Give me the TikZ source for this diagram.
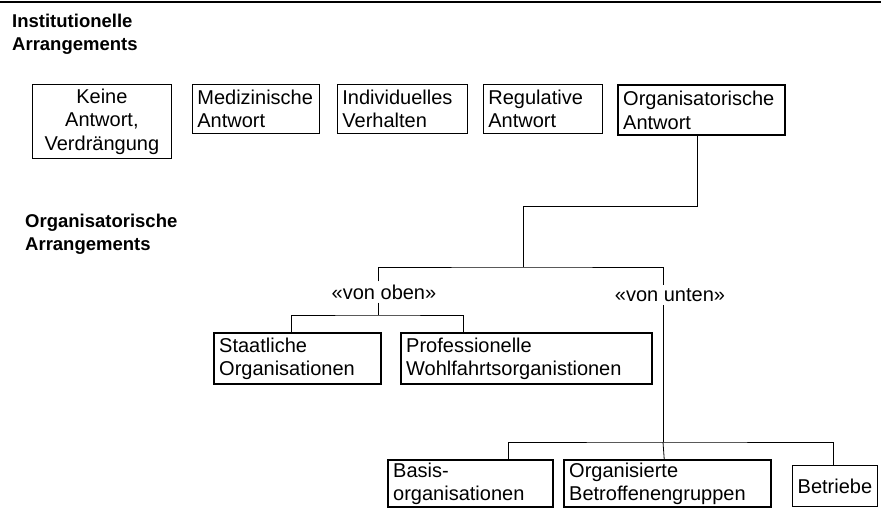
\documentclass[tikz,border=0pt]{standalone}
\usepackage{fontspec}
\setmainfont{Liberation Sans}
\usetikzlibrary{positioning}

\begin{document}
\begin{tikzpicture}[
    x=1pt, y=-1pt,
    head/.style={font=\fontsize{18.5}{22.5}\selectfont\bfseries,align=left,anchor=north west,inner sep=0pt},
    box/.style={draw,line width=0.8pt,anchor=north west,inner xsep=5pt,inner ysep=0pt,align=left,font=\fontsize{20}{23.5}\selectfont},
    thickbox/.style={box,line width=2.4pt},
    branch/.style={font=\fontsize{20}{23.5}\selectfont,inner sep=3pt},
    conn/.style={line width=0.8pt}
]
\useasboundingbox (0,0) rectangle (881,509);
\draw[line width=1.6pt] (0,2) -- (881,2);

\node[head] (insthead) at (12,14) {Institutionelle\\Arrangements};
\node[head] (orghead) at (25,214) {Organisatorische\\Arrangements};

\node[box,minimum width=139pt,minimum height=74pt,text width=129pt,align=center] (keine) at (32,84) {Keine\\Antwort,\\Verdrängung};
\node[box,minimum width=127pt,minimum height=49pt,text width=117pt] (mediz) at (192,84) {Medizinische\\Antwort};
\node[box,minimum width=130pt,minimum height=49pt,text width=120pt] (indiv) at (337,84) {Individuelles\\Verhalten};
\node[box,minimum width=119pt,minimum height=49pt,text width=109pt] (regul) at (483,84) {Regulative\\Antwort};
\node[thickbox,minimum width=167pt,minimum height=50pt,text width=157pt] (orgA) at (617,84) {Organisatorische\\Antwort};

\node[branch] (vonoben) at (384,292) {«von oben»};
\node[branch] (vonunten) at (670,295) {«von unten»};

\node[thickbox,minimum width=167pt,minimum height=51pt,text width=157pt] (staat) at (213,332) {Staatliche\\Organisationen};
\node[thickbox,minimum width=251pt,minimum height=51pt,text width=241pt] (prof) at (400,332) {Professionelle\\Wohlfahrtsorganistionen};

\node[thickbox,minimum width=165pt,minimum height=47pt,text width=155pt] (basis) at (387,459) {Basis-\\organisationen};
\node[thickbox,minimum width=207pt,minimum height=47pt,text width=197pt] (betroff) at (563,459) {Organisierte\\Betroffenengruppen};
\node[box,minimum width=85pt,minimum height=41pt,text width=75pt,align=center] (betriebe) at (792,465) {Betriebe};

% Verbindungen
\coordinate (bend) at (523,206);
\coordinate (split) at (523,267);
\coordinate (obenbus) at (378,315);
\coordinate (untenbus) at (663,442);

\draw[conn] ([xshift=-4pt]orgA.south) |- (bend) -- (split);
\draw[conn] ([xshift=-6pt]vonoben.north) |- (split) -| ([xshift=-7pt]vonunten.north);

\draw[conn] ([xshift=-6pt]vonoben.south) -- (obenbus);
\draw[conn] ([xshift=-6.5pt]staat.north) |- (obenbus) -| ([xshift=-63.5pt]prof.north);

\draw[conn] ([xshift=-7pt]vonunten.south) -- (untenbus);
\draw[conn] ([xshift=37.5pt]basis.north) |- (untenbus) -| ([xshift=-1.5pt]betriebe.north);
\draw[conn] (untenbus) -- ([xshift=-3.5pt]betroff.north);
\end{tikzpicture}
\end{document}
